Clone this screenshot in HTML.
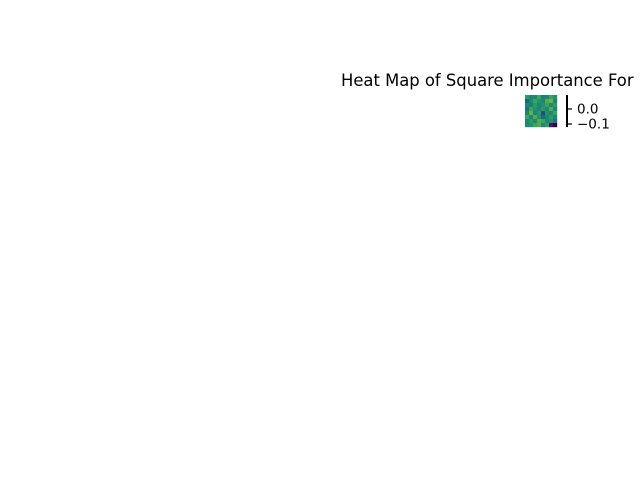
<!DOCTYPE html>
<html><head><meta charset="utf-8"><style>
body{margin:0;background:#fff;width:640px;height:480px;overflow:hidden;position:relative;font-family:"DejaVu Sans","Liberation Sans",sans-serif}
#title{position:absolute;left:341px;top:71px;font-size:16.4px;white-space:nowrap;color:#000}
</style></head><body>
<div id="title">Heat Map of Square Importance For</div>
<svg id="chart" width="640" height="480" style="position:absolute;left:0;top:0"></svg>
<script>
const rowsVals = [
 [0.02,0.0,0.0,0.03,-0.01,0.0,0.03,0.01],
 [-0.04,0.0,0.03,0.01,0.0,0.04,0.05,0.0],
 [0.0,-0.01,0.02,0.0,0.01,0.03,0.0,0.02],
 [-0.02,0.03,0.01,0.0,0.02,0.0,0.04,0.0],
 [0.0,0.05,0.0,0.02,-0.06,0.01,0.0,0.03],
 [0.03,0.0,0.04,0.01,-0.03,0.0,0.02,0.0],
 [0.0,0.02,0.0,0.04,0.03,0.0,0.01,-0.02],
 [0.0,0.01,0.03,0.04,0.0,0.02,-0.1,-0.12]
];
const tickValues = [0.0,-0.1];
const tickLabels = ["0.0","\u22120.1"];
const vmin=-0.12, vmax=0.093;
const vir=[[68,1,84],[72,40,120],[62,74,137],[49,104,142],[38,130,142],[31,158,137],[53,183,121],[110,206,88],[181,222,43],[253,231,37]];
function cmap(v){let t=Math.max(0,Math.min(1,(v-vmin)/(vmax-vmin)))*(vir.length-1);let i=Math.min(vir.length-2,Math.floor(t)),f=t-i;
 const c=vir[i].map((a,k)=>Math.round((a+(vir[i+1][k]-a)*f)*0.85));return `rgb(${c})`;}
const NS="http://www.w3.org/2000/svg",svg=document.getElementById('chart');
const x0=525,y0=95,size=32,n=rowsVals.length,cs=size/n;
function xCell(j){return x0+j*cs}
function yCell(i){return y0+i*cs}
rowsVals.forEach((row,i)=>row.forEach((v,j)=>{
 const r=document.createElementNS(NS,'rect');
 r.setAttribute('x',xCell(j));r.setAttribute('y',yCell(i));r.setAttribute('width',cs+0.2);r.setAttribute('height',cs+0.2);r.setAttribute('fill',cmap(v));
 
 
 svg.appendChild(r);
}));
const cbX=567,cbTop=95,cbBot=127;
function yCb(v){return cbBot-(v-vmin)/(vmax-vmin)*(cbBot-cbTop)}
const ln=document.createElementNS(NS,'line');
ln.setAttribute('x1',cbX);ln.setAttribute('x2',cbX);ln.setAttribute('y1',cbTop);ln.setAttribute('y2',cbBot);ln.setAttribute('stroke','#000');ln.setAttribute('stroke-width','2');


svg.appendChild(ln);
tickValues.forEach((v,k)=>{
 const y=yCb(v);
 const t=document.createElementNS(NS,'line');
 t.setAttribute('x1',cbX);t.setAttribute('x2',cbX+5);t.setAttribute('y1',y);t.setAttribute('y2',y);t.setAttribute('stroke','#000');t.setAttribute('stroke-width','1.2');
 
 
 svg.appendChild(t);
 const tx=document.createElementNS(NS,'text');
 tx.setAttribute('x',cbX+10);tx.setAttribute('y',y+4.5);tx.setAttribute('font-size','13.5');tx.setAttribute('font-family','DejaVu Sans, Liberation Sans, sans-serif');
 tx.textContent=tickLabels[k];
 
 
 svg.appendChild(tx);
});
</script>
</body></html>
